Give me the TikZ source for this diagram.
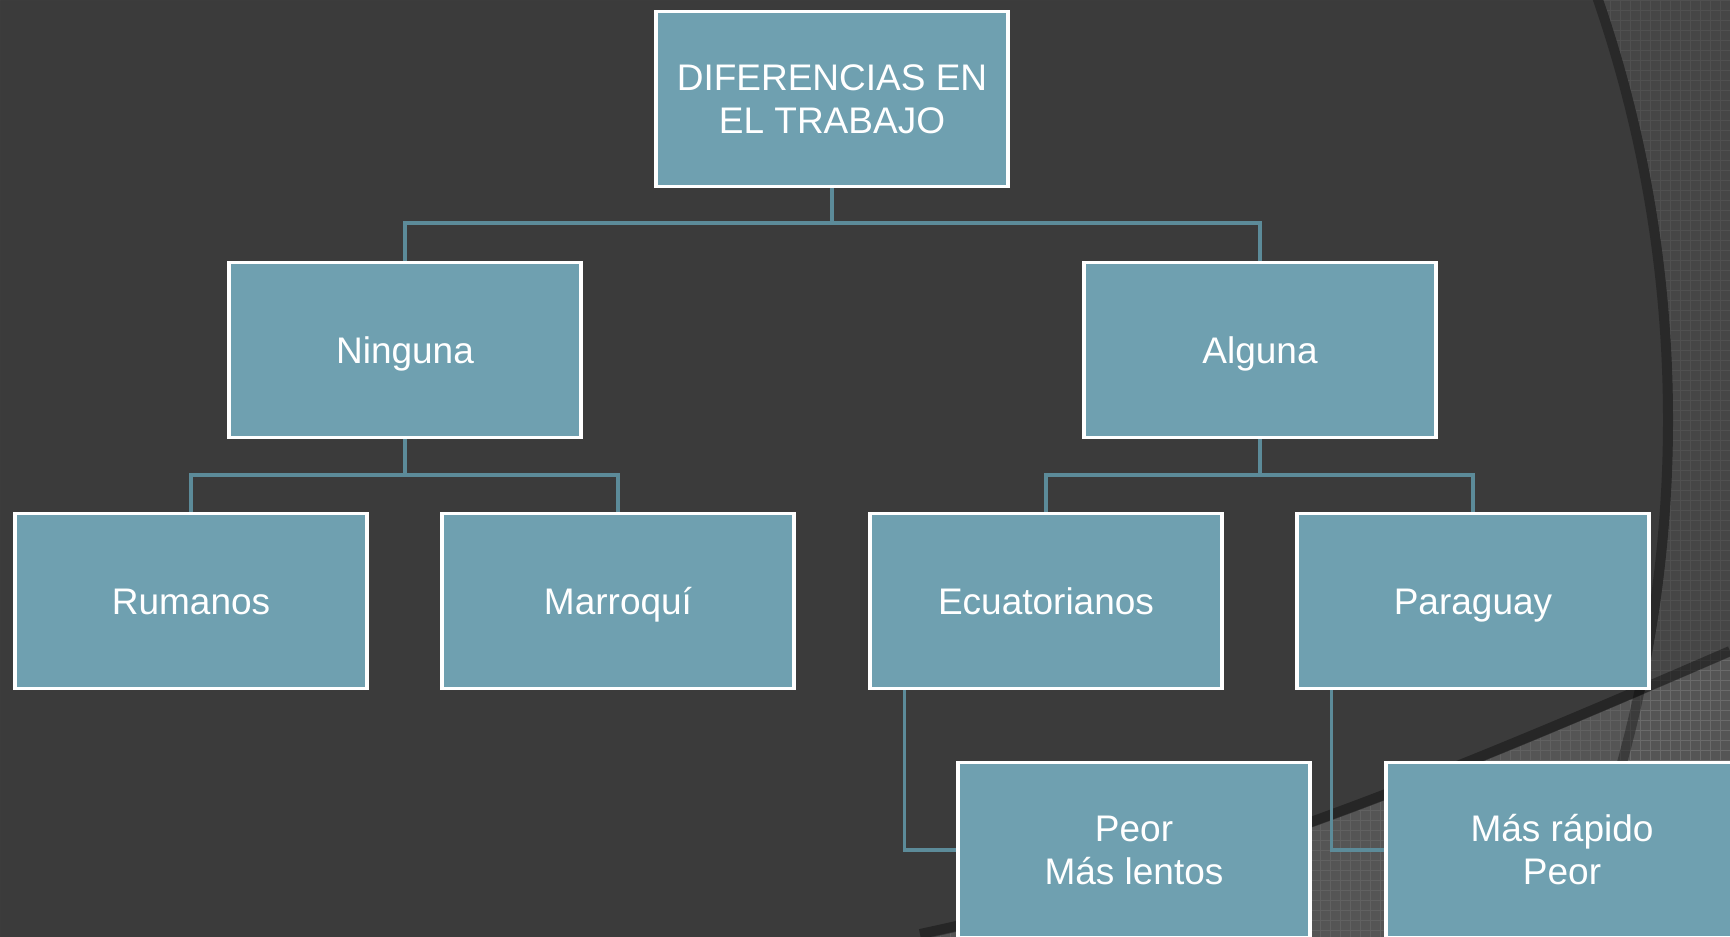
\documentclass[tikz,border=0pt]{standalone}
\usepackage{fontspec}
\setmainfont{Liberation Sans}
\usepackage{xcolor}
\usepackage{tikz}
\usetikzlibrary{calc,positioning}

\definecolor{fondo}{HTML}{3B3B3B}
\definecolor{trama}{HTML}{464646}
\definecolor{tramaclara}{HTML}{555555}
\definecolor{azulcaja}{HTML}{6FA0B0}
\definecolor{azullinea}{HTML}{5C8B99}

\newcommand{\puntal}{\rule[-4pt]{0pt}{21.5pt}}

\pgfdeclarelayer{capafondo}
\pgfdeclarelayer{capalineas}
\pgfsetlayers{capafondo,capalineas,main}

\begin{document}
\begin{tikzpicture}[x=0.5pt,y=-0.5pt,
  caja/.style={draw=white, line width=1.6pt, fill=azulcaja, text=white,
    minimum width=176pt, minimum height=87.5pt, inner sep=0pt, align=center,
    font=\fontsize{18.5}{21.5}\selectfont},
  una/.style={caja, execute at begin node=\puntal, execute at end node=\puntal},
  dos/.style={caja, text height=38.5pt, text depth=4pt},
  enlace/.style={draw=azullinea, line width=1.8pt}]

  \useasboundingbox (0,0) rectangle (1730,937);

  % fondo
  \begin{pgfonlayer}{capafondo}
  \fill[fondo] (0,0) rectangle (1730,937);
  \begin{scope}
    \clip (0,0) rectangle (1730,937);
    \fill[trama, even odd rule] (0,0) rectangle (1730,937) (378,420) circle[radius=1295];
    \fill[tramaclara] (920,940) .. controls (1200,880) and (1400,800) .. (1730,657) -- (1730,940) -- cycle;
    \begin{scope}[even odd rule]
      \clip (0,0) rectangle (1730,937) (378,420) circle[radius=1295];
      \draw[white, opacity=0.06, line width=0.4pt, step=5pt] (1500,0) grid (1730,937);
    \end{scope}
    \begin{scope}
      \clip (920,940) .. controls (1200,880) and (1400,800) .. (1730,657) -- (1730,940) -- cycle;
      \draw[white, opacity=0.07, line width=0.4pt, step=5pt] (900,600) grid (1730,937);
    \end{scope}
    \draw[black, opacity=0.3, line width=5pt] (378,420) circle[radius=1290];
    \draw[black, opacity=0.35, line width=5pt] (920,934) .. controls (1200,874) and (1400,794) .. (1730,651);
  \end{scope}
  \end{pgfonlayer}

  % cajas
  \node[dos] (titulo) at (832,99) {DIFERENCIAS EN\\EL TRABAJO};

  \node[una] (ninguna) at (405,350) {Ninguna};
  \node[una] (alguna) at (1260,350) {Alguna};

  \node[una] (rumanos) at (191,601) {Rumanos};
  \node[una] (marroqui) at (618,601) {Marroquí};
  \node[una] (ecuatorianos) at (1046,601) {Ecuatorianos};
  \node[una] (paraguay) at (1473,601) {Paraguay};

  \node[dos] (lentos) at (1134,850) {Peor\\Más lentos};
  \node[dos] (rapido) at (1562,850) {Más rápido\\Peor};

  % lineas
  \begin{pgfonlayer}{capalineas}
  \coordinate (barA) at ($(titulo.south)+(0,35)$);
  \coordinate (barB) at ($(ninguna.south)+(0,36)$);
  \coordinate (barC) at ($(alguna.south)+(0,36)$);

  \draw[enlace] (titulo.south) -- (barA) -| (ninguna.north);
  \draw[enlace] (barA) -| (alguna.north);

  \draw[enlace] (ninguna.south) -- (barB) -| (rumanos.north);
  \draw[enlace] (barB) -| (marroqui.north);

  \draw[enlace] (alguna.south) -- (barC) -| (ecuatorianos.north);
  \draw[enlace] (barC) -| (paraguay.north);

  \draw[enlace] ($(ecuatorianos.south west)+(36,0)$) |- (lentos.west);
  \draw[enlace] ($(paraguay.south west)+(36,0)$) |- (rapido.west);
  \end{pgfonlayer}

\end{tikzpicture}
\end{document}
